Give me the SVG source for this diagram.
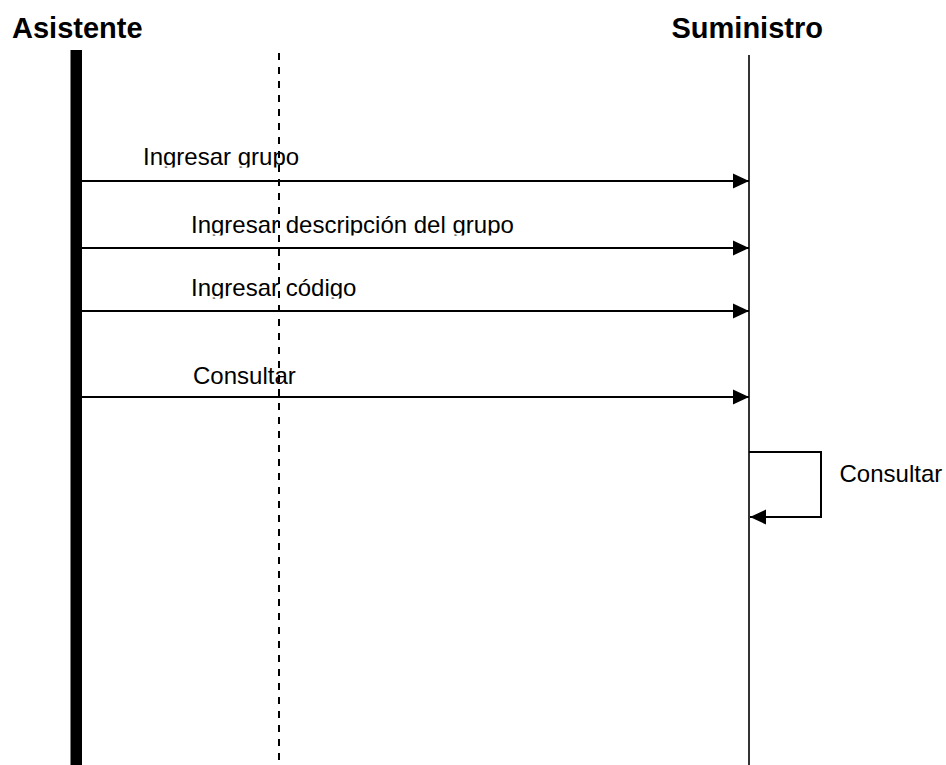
<svg xmlns="http://www.w3.org/2000/svg" width="946" height="765" viewBox="0 0 946 765">
  <style>
    .head { font-family: "Liberation Sans", Arial, sans-serif; font-weight: bold; font-size: 29px; fill: #000; }
    .lbl { font-family: "Liberation Sans", Arial, sans-serif; font-size: 24px; fill: #000; }
    .msg { stroke: #000; stroke-width: 2; fill: none; }
    .life { stroke: #000; stroke-width: 1.6; fill: none; }
  </style>
  <defs>
    <marker id="arrow" markerUnits="userSpaceOnUse" markerWidth="16" markerHeight="16" viewBox="0 0 16 16" refX="16" refY="8" orient="auto">
      <path d="M0,0.5 L16,8 L0,15.5 Z" fill="#000"/>
    </marker>
    <clipPath id="c1"><rect x="0" y="0" width="946" height="167.5"/></clipPath>
    <clipPath id="c2"><rect x="0" y="190" width="946" height="45.5"/></clipPath>
    <clipPath id="c3"><rect x="0" y="260" width="946" height="38.5"/></clipPath>
  </defs>
  <rect width="946" height="765" fill="#fff"/>

  <g id="asistente">
    <text class="head" x="12" y="38">Asistente</text>
    <rect x="70.5" y="50" width="11.5" height="715" fill="#000"/>
  </g>

  <g id="boundary">
    <line x1="279" y1="53" x2="279" y2="765" stroke="#000" stroke-width="2" stroke-dasharray="7,7"/>
  </g>

  <g id="suministro">
    <text class="head" x="671.5" y="38">Suministro</text>
    <line class="life" x1="749" y1="55" x2="749" y2="765"/>
  </g>

  <g id="connectors">
    <line class="msg" x1="82" y1="181" x2="749" y2="181" marker-end="url(#arrow)"/>
    <line class="msg" x1="82" y1="248" x2="749" y2="248" marker-end="url(#arrow)"/>
    <line class="msg" x1="82" y1="311" x2="749" y2="311" marker-end="url(#arrow)"/>
    <line class="msg" x1="82" y1="397" x2="749" y2="397" marker-end="url(#arrow)"/>
    <polyline class="msg" points="749,452 821,452 821,517 750,517" marker-end="url(#arrow)"/>
  </g>

  <g id="labels">
    <text class="lbl" x="143" y="165" clip-path="url(#c1)">Ingresar grupo</text>
    <text class="lbl" x="191" y="233" clip-path="url(#c2)">Ingresar descripción del grupo</text>
    <text class="lbl" x="191" y="296" clip-path="url(#c3)">Ingresar código</text>
    <text class="lbl" x="193" y="384">Consultar</text>
    <text class="lbl" x="839.5" y="482">Consultar</text>
  </g>
</svg>
